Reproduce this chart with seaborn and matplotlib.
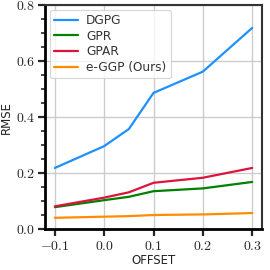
import numpy as np
import pandas as pd
import matplotlib
matplotlib.use("Agg")
import matplotlib.pyplot as plt
import seaborn as sns
from matplotlib.ticker import FuncFormatter, MultipleLocator

offsets = [-0.1, 0.0, 0.05, 0.1, 0.2, 0.3]
dgpg = [0.218, 0.296, 0.357, 0.486, 0.562, 0.718]
gpr = [0.078, 0.103, 0.115, 0.135, 0.145, 0.168]
gpar = [0.081, 0.112, 0.131, 0.165, 0.183, 0.218]
eggp = [0.040, 0.044, 0.046, 0.050, 0.052, 0.057]

methods = ["DGPG", "GPR", "GPAR", "e-GGP (Ours)"]
colors = ["#1E90FF", "#008000", "#DC143C", "#FF8C00"]

df = pd.DataFrame({
    "OFFSET": offsets * 4,
    "RMSE": dgpg + gpr + gpar + eggp,
    "method": [m for m in methods for _ in offsets],
})

sns.set_theme(style="ticks")
plt.rcParams["mathtext.fontset"] = "cm"
plt.rcParams["font.family"] = ["DejaVu Sans"]

fig = plt.figure(figsize=(2.7, 2.7), dpi=100)
ax = fig.add_axes([45 / 270, 41 / 270, 217 / 270, 224 / 270])

sns.lineplot(data=df, x="OFFSET", y="RMSE", hue="method", palette=colors,
             linewidth=1.6, ax=ax)

ax.set_xlim(-0.12, 0.32)
ax.set_ylim(0, 0.8)
ax.xaxis.set_major_locator(MultipleLocator(0.1))
ax.yaxis.set_major_locator(MultipleLocator(0.2))
ax.yaxis.set_minor_locator(MultipleLocator(0.05))
fmt = FuncFormatter(lambda v, p: "$%.1f$" % v if abs(v) > 1e-9 else "$0.0$")
ax.xaxis.set_major_formatter(fmt)
ax.yaxis.set_major_formatter(fmt)
ax.tick_params(axis="both", which="major", labelsize=10, length=5, width=1.6, pad=2)
ax.tick_params(axis="y", which="minor", length=3, width=1.2)
ax.grid(True, which="major", color="#cccccc", linewidth=1)
for s in ["left", "bottom"]:
    ax.spines[s].set_linewidth(2)
    ax.spines[s].set_color("black")
for s in ["top", "right"]:
    ax.spines[s].set_linewidth(1.5)
    ax.spines[s].set_color("#333333")

ax.set_xlabel("OFFSET", fontsize=8.5, labelpad=1, color="#222222")
ax.set_ylabel("RMSE", fontsize=8.5, labelpad=2, color="#222222")

leg = ax.legend(loc="upper left", fontsize=8.7, frameon=True, handlelength=2.0,
                borderpad=0.35, labelspacing=0.22, handletextpad=0.65,
                borderaxespad=0.4)
leg.get_frame().set_edgecolor("#cccccc")
leg.get_frame().set_linewidth(0.8)
for t in leg.get_texts():
    t.set_color("#333333")

fig.savefig("out.png", dpi=100)
